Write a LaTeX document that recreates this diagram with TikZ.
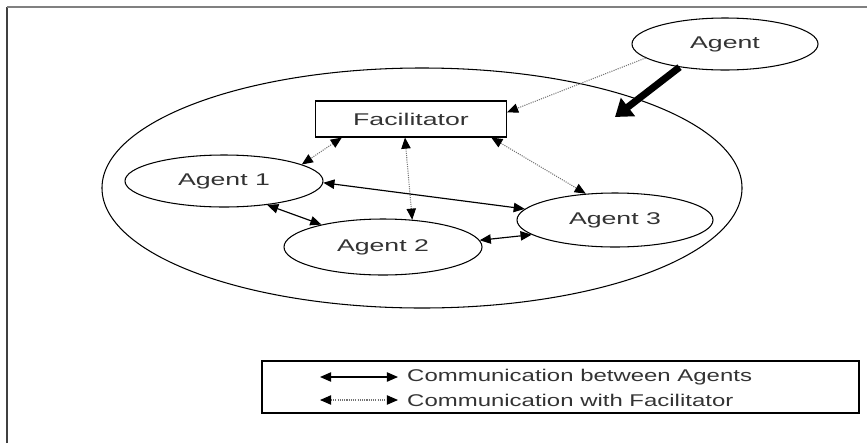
\documentclass[tikz,border=0pt]{standalone}
\usepackage{fontspec}
\newfontfamily\diagfont{Liberation Sans}[FakeStretch=1.57]
\newfontfamily\legfont{Liberation Sans}[FakeStretch=1.41]
\usetikzlibrary{arrows.meta,shapes.geometric}

\begin{document}
\begin{tikzpicture}[
    x=0.03cm, y=-0.03cm,
    agent/.style={draw, ellipse, inner sep=0pt, line width=0.9pt, font=\diagfont\fontsize{14.5}{17}\selectfont, text=black!80},
    facbox/.style={draw, rectangle, inner sep=0pt, line width=0.9pt, font=\diagfont\fontsize{14.5}{17}\selectfont, text=black!80},
    arr/.style={{Triangle[length=9.5pt,width=8pt]}-{Triangle[length=9.5pt,width=8pt]}, line width=1pt},
    facarr/.style={{Triangle[length=9.5pt,width=8pt,color=black]}-{Triangle[length=9.5pt,width=8pt,color=black]}, densely dotted, line width=0.9pt, black!55},
    toarr/.style={-{Triangle[length=9.5pt,width=8pt,color=black]}, densely dotted, line width=0.9pt, black!55},
    joinarr/.style={-{Triangle[length=14pt,width=19pt]}, line width=6pt}
]
\useasboundingbox (0,0) rectangle (867,443);
% frame
\draw[black!75, line width=1.4pt] (7,443) -- (7,7);
\draw[black!50, line width=1.4pt] (7,7) -- (867,7);

% system
\node[draw, ellipse, line width=0.9pt, minimum width=19.2cm, minimum height=7.2cm] (sys) at (422,188) {};
\node[facbox, minimum width=5.73cm, minimum height=1.08cm] (fac) at (411,119) {Facilitator};
\node[agent, minimum width=5.94cm, minimum height=1.56cm] (a1) at (224,181) {Agent 1};
\node[agent, minimum width=5.94cm, minimum height=1.68cm] (a2) at (383,247) {Agent 2};
\node[agent, minimum width=5.88cm, minimum height=1.62cm] (a3) at (615,220) {Agent 3};
\node[agent, minimum width=5.58cm, minimum height=1.56cm] (ag) at (725,44) {Agent};
\coordinate (join) at (615,117);

\draw[facarr] (fac.195) -- (a1.12);
\draw[facarr] (fac.252) -- (a2.43);
\draw[facarr] (fac.347) -- (a3.138);
\draw[toarr] (ag.190) -- (fac.4);
\draw[joinarr] (ag.207) -- (join);

\draw[arr] (a1.-1) -- (a3.173);
\draw[arr] (a1.331) -- (a2.160);
\draw[arr] (a2.4) -- (a3.190);

% legend
\node[draw, rectangle, line width=0.9pt, minimum width=17.91cm, minimum height=1.56cm] (leg) at (560.5,387) {};
\coordinate (l1a) at (320,377);
\coordinate (l1b) at (398,377);
\coordinate (l2a) at (320,400);
\coordinate (l2b) at (398,400);
\draw[arr] (l1a) -- (l1b);
\draw[facarr] (l2a) -- (l2b);
\node[anchor=west, inner sep=0pt, font=\legfont\fontsize{14.5}{17}\selectfont, text=black!80] (t1) at (407,377) {Communication between Agents};
\node[anchor=west, inner sep=0pt, font=\legfont\fontsize{14.5}{17}\selectfont, text=black!80] (t2) at (407,400) {Communication with Facilitator};
\end{tikzpicture}
\end{document}
